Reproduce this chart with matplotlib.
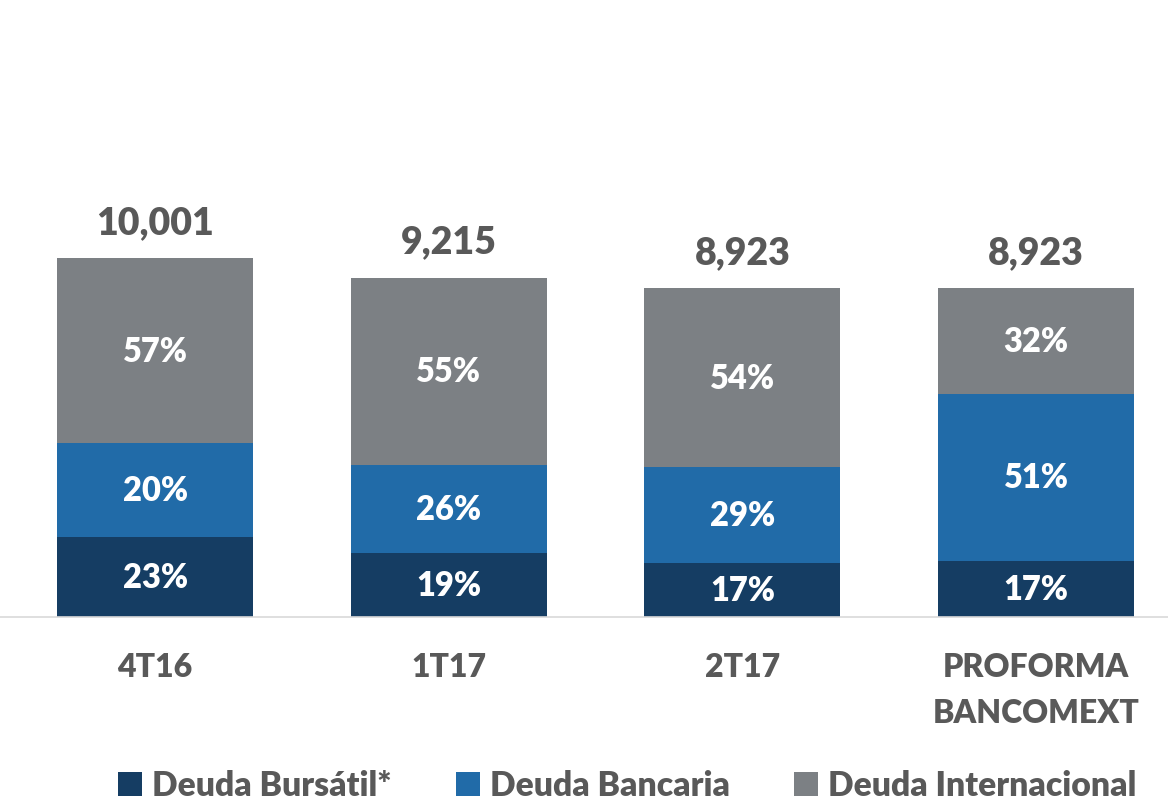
import matplotlib
matplotlib.use("Agg")
import matplotlib.pyplot as plt
import numpy as np

plt.rcParams['font.family'] = ['Lato', 'DejaVu Sans']

categories = ["4T16", "1T17", "2T17", "PROFORMA\nBANCOMEXT"]
totals_lbl = ["10,001", "9,215", "8,923", "8,923"]
# segment amounts (millions) as drawn
bursatil = [2187, 1733, 1462, 1535]
bancaria = [2535, 2402, 2608, 4529]
internacional = [5018, 5088, 4855, 2861]
pct_bursatil = ["23%", "19%", "17%", "17%"]
pct_bancaria = ["20%", "26%", "29%", "51%"]
pct_internacional = ["57%", "55%", "54%", "32%"]
series_names = ["Deuda Bursátil*", "Deuda Bancaria", "Deuda Internacional"]
colors = ["#153D63", "#216BA8", "#7C8084"]
text_grey = "#595959"
W = 'heavy'

fig = plt.figure(figsize=(11.68, 8.04), dpi=100)
ax = fig.add_axes([0, 0.2313, 1, 0.7687])

x = np.arange(len(categories))
w = 0.667
b1 = np.array(bursatil)
b2 = np.array(bancaria)
b3 = np.array(internacional)
h1 = ax.bar(x, b1, w, color=colors[0], label=series_names[0])
h2 = ax.bar(x, b2, w, bottom=b1, color=colors[1], label=series_names[1])
h3 = ax.bar(x, b3, w, bottom=b1 + b2, color=colors[2], label=series_names[2])

ax.set_xlim(-0.528, 3.449)
ax.set_ylim(0, 16789)

for i in range(len(x)):
    ax.text(x[i], b1[i] / 2, pct_bursatil[i], ha='center', va='center',
            color='white', fontsize=23.5, fontweight=W)
    ax.text(x[i], b1[i] + b2[i] / 2, pct_bancaria[i], ha='center', va='center',
            color='white', fontsize=23.5, fontweight=W)
    ax.text(x[i], b1[i] + b2[i] + b3[i] / 2, pct_internacional[i], ha='center', va='center',
            color='white', fontsize=23.5, fontweight=W)
    ax.annotate(totals_lbl[i], (x[i], b1[i] + b2[i] + b3[i]), xytext=(0, 18.5),
                textcoords='offset points', ha='center', va='baseline',
                color=text_grey, fontsize=27, fontweight=W)

for s in ['top', 'right', 'left']:
    ax.spines[s].set_visible(False)
ax.spines['bottom'].set_color('#D9D9D9')
ax.spines['bottom'].set_linewidth(1.2)
ax.set_yticks([])
ax.set_xticks(x)
ax.set_xticklabels(categories, fontsize=23, fontweight=W, color=text_grey,
                   linespacing=1.7)
ax.tick_params(axis='x', length=0, pad=25)

fig.legend(handles=[h1, h2, h3], labels=series_names, loc='lower center',
           bbox_to_anchor=(0.537, 0.0), ncol=3, frameon=False,
           borderpad=0.05, borderaxespad=0.0,
           handlelength=0.72, handleheight=0.72, handletextpad=0.3,
           columnspacing=1.9, labelcolor=text_grey,
           prop={'weight': W, 'size': 24.2})

fig.savefig("out.png", dpi=100)
